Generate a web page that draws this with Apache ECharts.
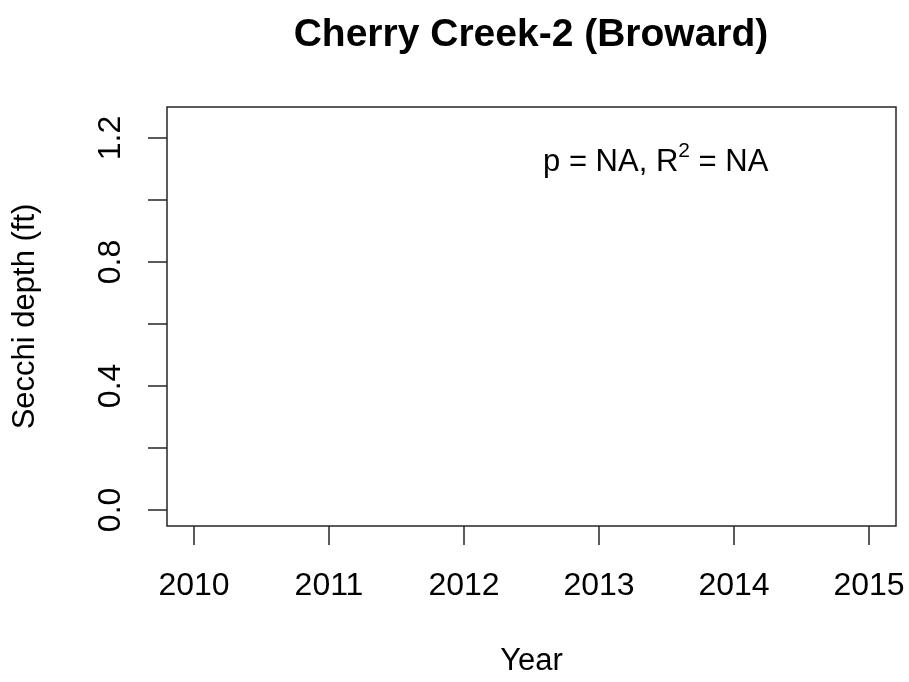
<!DOCTYPE html>
<html>
<head>
<meta charset="utf-8">
<script src="https://cdn.jsdelivr.net/npm/echarts@6/dist/echarts.min.js"></script>
<style>
html,body{margin:0;padding:0;background:#fff;}
#chart{width:909px;height:682px;}
</style>
</head>
<body>
<div id="chart"></div>
<script>
// Data (empty series: no observations for this site)
const years = [];
const secchiDepth = [];
const xTickValues = [2010, 2011, 2012, 2013, 2014, 2015];
const yTickValues = [0, 0.2, 0.4, 0.6, 0.8, 1.0, 1.2];
const yLabelValues = [0, 0.4, 0.8, 1.2];
const xRange = [2009.8, 2015.2];
const yRange = [-0.052, 1.3];
const annotationPoint = [2013.42, 1.126];
const titleText = 'Cherry Creek-2 (Broward)';

const FONT = 'Liberation Sans, Arial, sans-serif';
const chart = echarts.init(document.getElementById('chart'), null, {renderer: 'canvas'});

const option = {
  backgroundColor: '#fff',
  animation: false,
  title: {
    text: titleText,
    left: 526,
    top: 11,
    textAlign: 'center',
    textStyle: {fontFamily: FONT, fontWeight: 'bold', fontSize: 39, color: '#000'}
  },
  grid: {
    left: 167, right: 13, top: 107, bottom: 154,
    show: true, borderColor: '#262626', borderWidth: 1.5, backgroundColor: 'transparent'
  },
  xAxis: {
    type: 'value',
    min: xRange[0], max: xRange[1],
    name: 'Year',
    nameLocation: 'middle',
    nameGap: 120,
    nameTextStyle: {fontFamily: FONT, fontSize: 31, color: '#000'},
    axisLine: {show: false, onZero: false},
    axisTick: {show: true, length: 19, customValues: xTickValues, lineStyle: {color: '#262626', width: 1.5}},
    axisLabel: {customValues: xTickValues, margin: 44, fontFamily: FONT, fontSize: 32, color: '#000',
      formatter: v => String(v)},
    splitLine: {show: false}
  },
  yAxis: {
    type: 'value',
    min: yRange[0], max: yRange[1],
    name: 'Secchi depth (ft)',
    nameLocation: 'middle',
    nameGap: 126,
    nameRotate: 90,
    nameTextStyle: {fontFamily: FONT, fontSize: 31, color: '#000'},
    axisLine: {show: false, onZero: false},
    axisTick: {show: true, length: 19, customValues: yTickValues, lineStyle: {color: '#262626', width: 1.5}},
    axisLabel: {customValues: yLabelValues, rotate: 90, margin: 40, fontFamily: FONT, fontSize: 32, color: '#000',
      formatter: v => v.toFixed(1)},
    splitLine: {show: false}
  },
  series: [
    {
      type: 'scatter',
      data: years.map((y, i) => [y, secchiDepth[i]]),
      symbol: 'circle', symbolSize: 10,
      itemStyle: {color: '#000'}
    },
    {
      type: 'scatter',
      data: [annotationPoint],
      symbolSize: 0,
      silent: true,
      itemStyle: {color: '#000', opacity: 1},
      label: {
        show: true,
        position: [0, 0],
        align: 'center',
        verticalAlign: 'middle',
        color: '#000',
        formatter: '{a|p = NA, R}{s|2}{a| = NA}',
        rich: {
          a: {fontFamily: FONT, fontSize: 31, color: '#000', lineHeight: 34, verticalAlign: 'bottom'},
          s: {fontFamily: FONT, fontSize: 21, color: '#000', lineHeight: 21, verticalAlign: 'bottom', padding: [0, 0, 16, 0]}
        }
      }
    }
  ]
};
chart.setOption(option);
</script>
</body>
</html>
